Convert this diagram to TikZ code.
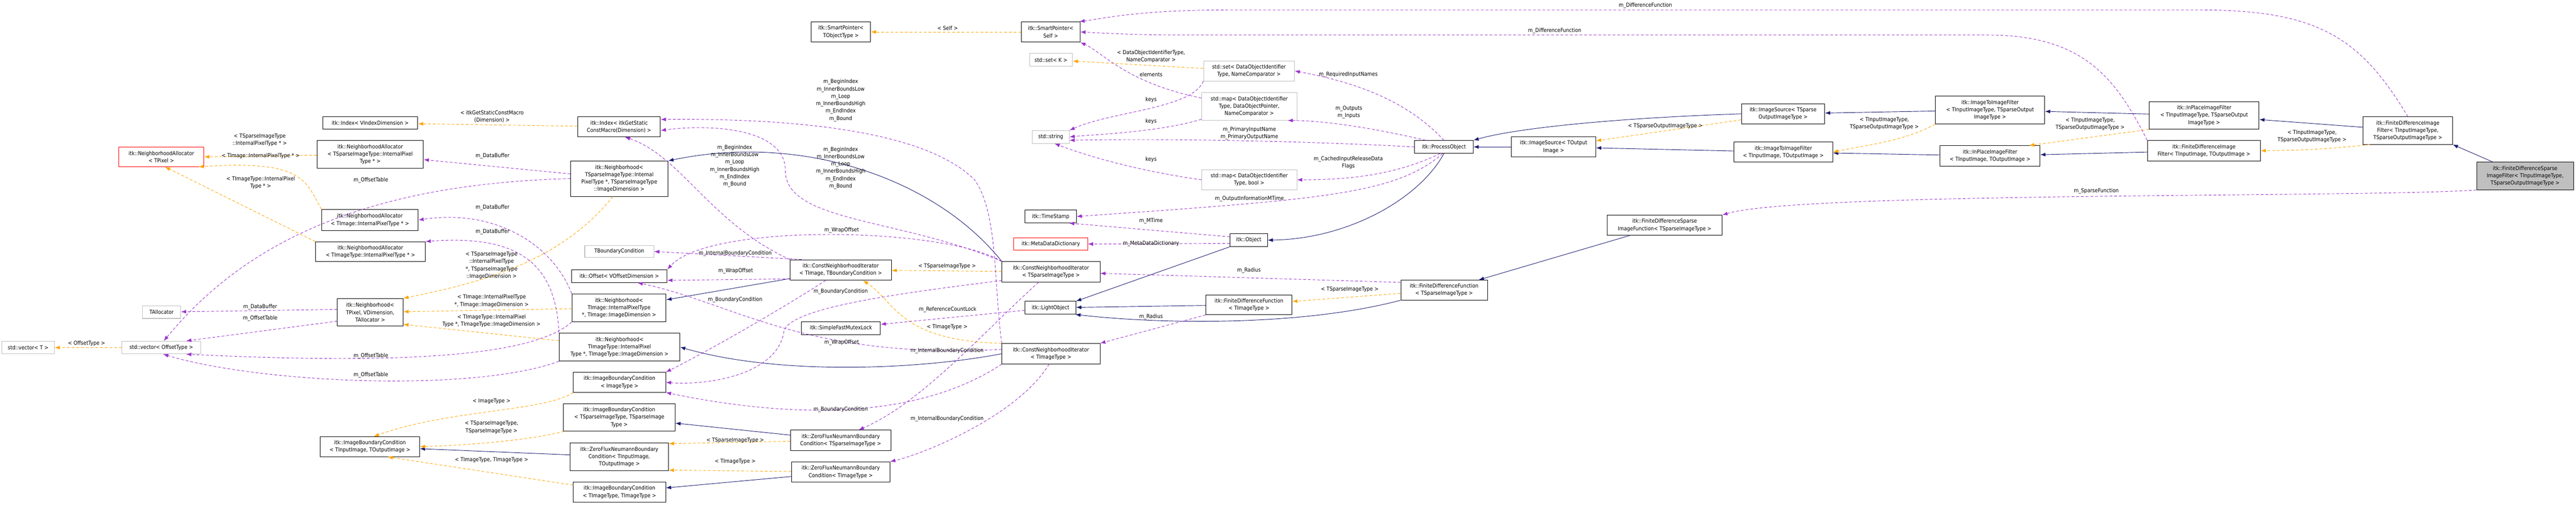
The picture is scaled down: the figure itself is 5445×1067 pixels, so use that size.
\documentclass[tikz,border=0pt]{standalone}
\usepackage{fontspec}
\setmainfont{DejaVu Sans Condensed}
\usepackage{tikz}
\usetikzlibrary{arrows.meta}
\definecolor{navy}{HTML}{191970}
\definecolor{usecol}{HTML}{9A32CD}
\definecolor{tplcol}{HTML}{FFA500}
\definecolor{grayb}{HTML}{BFBFBF}
\tikzset{>={Latex[length=11pt,width=8pt]}}
\tikzset{cls/.style 2 args = {draw=black,line width=1.1pt,minimum width=#1pt,minimum height=#2pt,inner sep=1pt,align=center,font=\fontsize{11.5}{15.5}\selectfont}}
\tikzset{clsgray/.style 2 args = {cls={#1}{#2},draw=grayb}}
\tikzset{clsred/.style 2 args = {cls={#1}{#2},draw=red}}
\tikzset{clsmain/.style 2 args = {cls={#1}{#2},fill=grayb}}
\tikzset{lbl/.style = {inner sep=0pt,align=center,text=black,font=\fontsize{11.5}{15.5}\selectfont}}
\tikzset{inherit/.style = {->,navy,line width=1pt}}
\tikzset{templ/.style = {->,tplcol,line width=1pt,dash pattern=on 6pt off 4pt}}
\tikzset{usage/.style = {->,usecol,line width=1pt,dash pattern=on 6pt off 4pt}}

\begin{document}
\begin{tikzpicture}[x=1pt,y=-1pt]
            \useasboundingbox (0,0) rectangle (5445,1067);
            % Vertices
            \node[clsred={180}{41}] (naTPixel) at (341,331.5) {itk::NeighborhoodAllocator\\< TPixel >};
            \node[clsgray={81}{27}] (tAlloc) at (341.5,659.5) {TAllocator};
            \node[clsgray={111}{27}] (vecT) at (59.5,734.5) {std::vector< T >};
            \node[clsgray={166}{27}] (vecOff) at (341,734.5) {std::vector< OffsetType >};
            \node[cls={201}{26}] (idxV) at (782.5,260) {itk::Index< VIndexDimension >};
            \node[cls={225}{59}] (naSparse) at (782.5,326.5) {itk::NeighborhoodAllocator\\< TSparseImageType::InternalPixel\\Type * >};
            \node[cls={204}{44}] (naImage) at (782,465) {itk::NeighborhoodAllocator\\< TImage::InternalPixelType * >};
            \node[cls={232}{42}] (naImageType) at (783,532) {itk::NeighborhoodAllocator\\< TImageType::InternalPixelType * >};
            \node[cls={139}{58}] (nbTPixel) at (782.5,660) {itk::Neighborhood<\\ TPixel, VDimension,\\ TAllocator >};
            \node[cls={210}{42}] (ibcInOut) at (782,944) {itk::ImageBoundaryCondition\\< TInputImage, TOutputImage >};
            \node[cls={175}{42}] (idxMacro) at (1308.5,268) {itk::Index< itkGetStatic\\ConstMacro(Dimension) >};
            \node[cls={206}{75}] (nbSparse) at (1309,377.5) {itk::Neighborhood<\\ TSparseImageType::Internal\\PixelType *, TSparseImageType\\::ImageDimension >};
            \node[clsgray={146}{25}] (tBound) at (1309,531.5) {TBoundaryCondition};
            \node[cls={202}{27}] (offV) at (1309,583.5) {itk::Offset< VOffsetDimension >};
            \node[cls={199}{59}] (nbImage) at (1308.5,650.5) {itk::Neighborhood<\\ TImage::InternalPixelType\\ *, TImage::ImageDimension >};
            \node[cls={255}{59}] (nbImageType) at (1309.5,733.5) {itk::Neighborhood<\\ TImageType::InternalPixel\\Type *, TImageType::ImageDimension >};
            \node[cls={195}{42}] (ibcImg) at (1309.5,808) {itk::ImageBoundaryCondition\\< ImageType >};
            \node[cls={236}{58}] (ibcSparse) at (1309,882) {itk::ImageBoundaryCondition\\< TSparseImageType, TSparseImage\\Type >};
            \node[cls={208}{59}] (zfInOut) at (1309,965.5) {itk::ZeroFluxNeumannBoundary\\Condition< TInputImage,\\ TOutputImage >};
            \node[cls={195}{42}] (ibcImgType) at (1309.5,1040) {itk::ImageBoundaryCondition\\< TImageType, TImageType >};
            \node[cls={125}{43}] (spTObj) at (1777.5,67.5) {itk::SmartPointer<\\ TObjectType >};
            \node[cls={214}{43}] (cniTB) at (1777,570.5) {itk::ConstNeighborhoodIterator\\< TImage, TBoundaryCondition >};
            \node[cls={167}{27}] (mutex) at (1777.5,693.5) {itk::SimpleFastMutexLock};
            \node[cls={212}{43}] (zfSparse) at (1777,930.5) {itk::ZeroFluxNeumannBoundary\\Condition< TSparseImageType >};
            \node[cls={208}{43}] (zfImgType) at (1777,997.5) {itk::ZeroFluxNeumannBoundary\\Condition< TImageType >};
            \node[cls={124}{43}] (spSelf) at (2221,67.5) {itk::SmartPointer<\\ Self >};
            \node[clsgray={91}{27}] (setK) at (2221.5,126.5) {std::set< K >};
            \node[clsgray={78}{27}] (strg) at (2221,289.5) {std::string};
            \node[cls={108}{27}] (timeSt) at (2221,457.5) {itk::TimeStamp};
            \node[clsred={156}{26}] (metaDict) at (2221,516) {itk::MetaDataDictionary};
            \node[cls={207}{43}] (cniSparse) at (2221.5,574.5) {itk::ConstNeighborhoodIterator\\< TSparseImageType >};
            \node[cls={107}{27}] (lightObj) at (2220.5,650.5) {itk::LightObject};
            \node[cls={207}{43}] (cniImgType) at (2221.5,747.5) {itk::ConstNeighborhoodIterator\\< TImageType >};
            \node[clsgray={192}{42}] (setDO) at (2640,150) {std::set< DataObjectIdentifier\\Type, NameComparator >};
            \node[clsgray={201}{58}] (mapDO) at (2640.5,225) {std::map< DataObjectIdentifier\\Type, DataObjectPointer,\\ NameComparator >};
            \node[clsgray={201}{42}] (mapBool) at (2640.5,380) {std::map< DataObjectIdentifier\\Type, bool >};
            \node[cls={79}{27}] (object) at (2639.5,507.5) {itk::Object};
            \node[cls={182}{42}] (fdfImgType) at (2640,644) {itk::FiniteDifferenceFunction\\< TImageType >};
            \node[cls={124}{27}] (procObj) at (3052,310.5) {itk::ProcessObject};
            \node[cls={183}{42}] (fdfSparse) at (3052.5,613) {itk::FiniteDifferenceFunction\\< TSparseImageType >};
            \node[cls={178}{43}] (imgSrcOut) at (3284,310.5) {itk::ImageSource< TOutput\\Image >};
            \node[cls={243}{42}] (fdSparseFn) at (3518.5,476) {itk::FiniteDifferenceSparse\\ImageFunction< TSparseImageType >};
            \node[cls={176}{43}] (imgSrcSparse) at (3769,240.5) {itk::ImageSource< TSparse\\OutputImageType >};
            \node[cls={209}{43}] (i2iInOut) at (3769.5,321.5) {itk::ImageToImageFilter\\< TInputImage, TOutputImage >};
            \node[cls={231}{59}] (i2iSparse) at (4206.5,232.5) {itk::ImageToImageFilter\\< TInputImageType, TSparseOutput\\ImageType >};
            \node[cls={211}{43}] (ipInOut) at (4206.5,329.5) {itk::InPlaceImageFilter\\< TInputImage, TOutputImage >};
            \node[cls={232}{58}] (ipSparse) at (4659,244) {itk::InPlaceImageFilter\\< TInputImageType, TSparseOutput\\ImageType >};
            \node[cls={239}{43}] (fdifInOut) at (4658.5,318.5) {itk::FiniteDifferenceImage\\Filter< TInputImage, TOutputImage >};
            \node[cls={189}{58}] (fdifSparse) at (5089.5,276) {itk::FiniteDifferenceImage\\Filter< TInputImageType,\\ TSparseOutputImageType >};
            \node[clsmain={205}{58}] (fdsif) at (5337.5,372) {itk::FiniteDifferenceSparse\\ImageFilter< TInputImageType,\\ TSparseOutputImageType >};

            % Edges
            % inheritance
            \draw[inherit] (fdsif) -- (fdifSparse.south east);
            \draw[inherit] (fdifSparse) -- (ipSparse);
            \draw[inherit] (ipSparse) -- (i2iSparse);
            \draw[inherit] (i2iSparse) -- (imgSrcSparse);
            \draw[inherit] (imgSrcSparse.west) .. controls (3400,250) and (3200,272) .. (procObj.north east);
            \draw[inherit] (fdifInOut) -- (ipInOut);
            \draw[inherit] (ipInOut) -- (i2iInOut);
            \draw[inherit] (i2iInOut) -- (imgSrcOut);
            \draw[inherit] (imgSrcOut) -- (procObj);
            \draw[inherit] (procObj.south) .. controls (3000,420) and (2850,505) .. (object.east);
            \draw[inherit] (object.south west) -- (lightObj.north east);
            \draw[inherit] (fdfImgType) -- (lightObj);
            \draw[inherit] (fdSparseFn) -- (fdfSparse);
            \draw[inherit] (fdfSparse.south west) .. controls (2750,690) and (2450,685) .. (lightObj.-15);
            \draw[inherit] (cniTB) -- (nbImage);
            \draw[inherit] (cniSparse.north west) .. controls (1980,380) and (1700,280) .. (nbSparse.20);
            \draw[inherit] (cniImgType.west) .. controls (1950,780) and (1650,795) .. (nbImageType.east);
            \draw[inherit] (zfInOut) -- (ibcInOut);
            \draw[inherit] (zfSparse) -- (ibcSparse);
            \draw[inherit] (zfImgType) -- (ibcImgType);

            % templates
            \draw[templ] (spSelf) -- (spTObj) node[lbl, at={(2003,59)}] {< Self >};
            \draw[templ] (setDO) -- (setK) node[lbl, at={(2433,119)}] {< DataObjectIdentifierType,\\NameComparator >};
            \draw[templ] (idxMacro) -- (idxV) node[lbl, at={(1040,246)}] {< itkGetStaticConstMacro\\(Dimension) >};
            \draw[templ] (naSparse) -- (naTPixel.east) node[lbl, at={(549,296)}] {< TSparseImageType\\::InternalPixelType * >};
            \draw[templ] (naImage.north west) .. controls (645,380) and (640,338) .. (naTPixel.-15) node[lbl, at={(551,330)}] {< TImage::InternalPixelType * >};
            \draw[templ] (naImageType.north west) -- (naTPixel.-70) node[lbl, at={(551,386)}] {< TImageType::InternalPixel\\Type * >};
            \draw[templ] (vecOff) -- (vecT) node[lbl, at={(183,726)}] {< OffsetType >};
            \draw[templ] (nbSparse.-110) .. controls (1180,560) and (1000,600) .. (nbTPixel.north east) node[lbl, at={(1039,561)}] {< TSparseImageType\\::InternalPixelType\\*, TSparseImageType\\::ImageDimension >};
            \draw[templ] (nbImage) -- (nbTPixel) node[lbl, at={(1039,636)}] {< TImage::InternalPixelType\\*, TImage::ImageDimension >};
            \draw[templ] (nbImageType) -- (nbTPixel.-20) node[lbl, at={(1039,678)}] {< TImageType::InternalPixel\\Type *, TImageType::ImageDimension >};
            \draw[templ] (ibcImg.south west) .. controls (1150,870) and (950,865) .. (ibcInOut.70) node[lbl, at={(1039,848)}] {< ImageType >};
            \draw[templ] (ibcSparse) .. controls (1100,935) and (950,942) .. (ibcInOut.east) node[lbl, at={(1039,903)}] {< TSparseImageType,\\TSparseImageType >};
            \draw[templ] (ibcImgType) -- (ibcInOut.-30) node[lbl, at={(1039,972)}] {< TImageType, TImageType >};
            \draw[templ] (zfSparse) -- (zfInOut.15) node[lbl, at={(1554,931)}] {< TSparseImageType >};
            \draw[templ] (zfImgType) -- (zfInOut.-15) node[lbl, at={(1554,975)}] {< TImageType >};
            \draw[templ] (cniSparse) -- (cniTB) node[lbl, at={(2002,563)}] {< TSparseImageType >};
            \draw[templ] (cniImgType.north west) .. controls (1900,720) and (1895,640) .. (cniTB.-25) node[lbl, at={(2002,691)}] {< TImageType >};
            \draw[templ] (fdfSparse) -- (fdfImgType) node[lbl, at={(2853,612)}] {< TSparseImageType >};
            \draw[templ] (imgSrcSparse) -- (imgSrcOut) node[lbl, at={(3520,267)}] {< TSparseOutputImageType >};
            \draw[templ] (i2iSparse.south west) .. controls (4020,300) and (3950,305) .. (i2iInOut.east) node[lbl, at={(3983,261)}] {< TInputImageType,\\TSparseOutputImageType >};
            \draw[templ] (ipSparse.south west) -- (ipInOut.15) node[lbl, at={(4418,262)}] {< TInputImageType,\\TSparseOutputImageType >};
            \draw[templ] (fdifSparse.-160) .. controls (4900,318) and (4820,318) .. (fdifInOut.east) node[lbl, at={(4887,288)}] {< TInputImageType,\\TSparseOutputImageType >};

            % members
            \draw[usage] (fdsif.south west) .. controls (5000,418) and (3800,405) .. (fdSparseFn.north east) node[lbl, at={(4431,404)}] {m\_SparseFunction};
            \draw[usage] (fdifSparse.north) .. controls (4990,80) and (4900,21) .. (4650,21) -- (2600,21) .. controls (2400,21) and (2330,40) .. (spSelf.20) node[lbl, at={(3478,12)}] {m\_DifferenceFunction};
            \draw[usage] (fdifInOut.north west) .. controls (4470,160) and (4400,74) .. (4200,74) -- (2500,74) .. controls (2400,74) and (2330,70) .. (spSelf.east) node[lbl, at={(3286,65)}] {m\_DifferenceFunction};
            \draw[usage] (mapDO.170) .. controls (2380,175) and (2330,110) .. (spSelf.south east) node[lbl, at={(2433,157)}] {elements};
            \draw[usage] (setDO.south west) .. controls (2520,230) and (2350,235) .. (strg.north east) node[lbl, at={(2433,211)}] {keys};
            \draw[usage] (mapDO.-165) .. controls (2450,280) and (2300,285) .. (strg.east) node[lbl, at={(2433,257)}] {keys};
            \draw[usage] (mapBool.west) .. controls (2400,360) and (2300,330) .. (strg.-60) node[lbl, at={(2433,337)}] {keys};
            \draw[usage] (procObj.west) .. controls (2800,300) and (2500,292) .. (strg.-10) node[lbl, at={(2641,282)}] {m\_PrimaryInputName\\m\_PrimaryOutputName};
            \draw[usage] (procObj.north) .. controls (2990,230) and (2900,180) .. (setDO.east) node[lbl, at={(2850,158)}] {m\_RequiredInputNames};
            \draw[usage] (procObj.160) .. controls (2900,270) and (2800,255) .. (mapDO.-20) node[lbl, at={(2851,237)}] {m\_Outputs\\m\_Inputs};
            \draw[usage] (procObj.-120) .. controls (2950,370) and (2850,380) .. (mapBool.east) node[lbl, at={(2850,344)}] {m\_CachedInputReleaseData\\Flags};
            \draw[usage] (procObj.-100) .. controls (2950,410) and (2800,421) .. (timeSt.east) node[lbl, at={(2641,420)}] {m\_OutputInformationMTime};
            \draw[usage] (object.170) -- (timeSt.-20) node[lbl, at={(2433,467)}] {m\_MTime};
            \draw[usage] (object.-170) -- (metaDict) node[lbl, at={(2433,515)}] {m\_MetaDataDictionary};
            \draw[usage] (lightObj) -- (mutex) node[lbl, at={(2003,654)}] {m\_ReferenceCountLock};
            \draw[usage] (fdfImgType.south west) -- (cniImgType.north east) node[lbl, at={(2433,669)}] {m\_Radius};
            \draw[usage] (fdfSparse.170) -- (cniSparse) node[lbl, at={(2640,571)}] {m\_Radius};
            \draw[usage] (cniTB.north west) .. controls (1500,470) and (1440,330) .. (idxMacro.-60) node[lbl, at={(1553,351)}] {m\_BeginIndex\\m\_InnerBoundsLow\\m\_Loop\\m\_InnerBoundsHigh\\m\_EndIndex\\m\_Bound};
            \draw[usage] (cniSparse.north west) .. controls (1900,460) and (1660,470) .. (1660,360) .. controls (1660,270) and (1500,262) .. (idxMacro.-5) node[lbl, at={(1777,355)}] {m\_BeginIndex\\m\_InnerBoundsLow\\m\_Loop\\m\_InnerBoundsHigh\\m\_EndIndex\\m\_Bound};
            \draw[usage] (cniImgType.north west) .. controls (2100,600) and (2110,450) .. (2060,380) .. controls (1950,270) and (1650,250) .. (idxMacro.10) node[lbl, at={(1777,212)}] {m\_BeginIndex\\m\_InnerBoundsLow\\m\_Loop\\m\_InnerBoundsHigh\\m\_EndIndex\\m\_Bound};
            \draw[usage] (cniTB.165) -- (tBound.east) node[lbl, at={(1554,535)}] {m\_InternalBoundaryCondition};
            \draw[usage] (cniTB.-170) -- (offV.-5) node[lbl, at={(1555,573)}] {m\_WrapOffset};
            \draw[usage] (cniSparse.north west) .. controls (2000,480) and (1500,470) .. (offV.north east) node[lbl, at={(1779,486)}] {m\_WrapOffset};
            \draw[usage] (cniImgType.175) .. controls (1700,760) and (1550,640) .. (offV.-20) node[lbl, at={(1779,724)}] {m\_WrapOffset};
            \draw[usage] (cniTB.-145) .. controls (1640,660) and (1500,740) .. (ibcImg.north east) node[lbl, at={(1554,634)}] {m\_BoundaryCondition};
            \draw[usage] (cniSparse.-170) .. controls (1900,620) and (1670,650) .. (1657,700) .. controls (1645,790) and (1500,815) .. (ibcImg.east) node[lbl, at={(1777,616)}] {m\_BoundaryCondition};
            \draw[usage] (cniImgType.south west) .. controls (1950,880) and (1700,890) .. (ibcImg.south east) node[lbl, at={(1777,866)}] {m\_BoundaryCondition};
            \draw[usage] (cniSparse.-140) .. controls (2080,700) and (1950,850) .. (zfSparse.30) node[lbl, at={(2002,741)}] {m\_InternalBoundaryCondition};
            \draw[usage] (cniImgType.-100) .. controls (2150,880) and (1950,960) .. (zfImgType.north east) node[lbl, at={(2002,885)}] {m\_InternalBoundaryCondition};
            \draw[usage] (nbSparse) -- (naSparse) node[lbl, at={(1041,330)}] {m\_DataBuffer};
            \draw[usage] (nbSparse.west) .. controls (700,390) and (480,560) .. (vecOff.70) node[lbl, at={(784,381)}] {m\_OffsetTable};
            \draw[usage] (nbImage.north west) .. controls (1170,520) and (1050,440) .. (naImage.east) node[lbl, at={(1041,439)}] {m\_DataBuffer};
            \draw[usage] (nbImageType.north west) .. controls (1175,560) and (1100,495) .. (naImageType.north east) node[lbl, at={(1041,490)}] {m\_DataBuffer};
            \draw[usage] (nbImage.south west) .. controls (1120,760) and (800,768) .. (vecOff.-15) node[lbl, at={(784,752)}] {m\_OffsetTable};
            \draw[usage] (nbImageType.south west) .. controls (1000,830) and (550,810) .. (vecOff.-75) node[lbl, at={(784,793)}] {m\_OffsetTable};
            \draw[usage] (nbTPixel.175) -- (tAlloc) node[lbl, at={(550,649)}] {m\_DataBuffer};
            \draw[usage] (nbTPixel.-165) -- (vecOff.15) node[lbl, at={(550,673)}] {m\_OffsetTable};
        \end{tikzpicture}
\end{document}
